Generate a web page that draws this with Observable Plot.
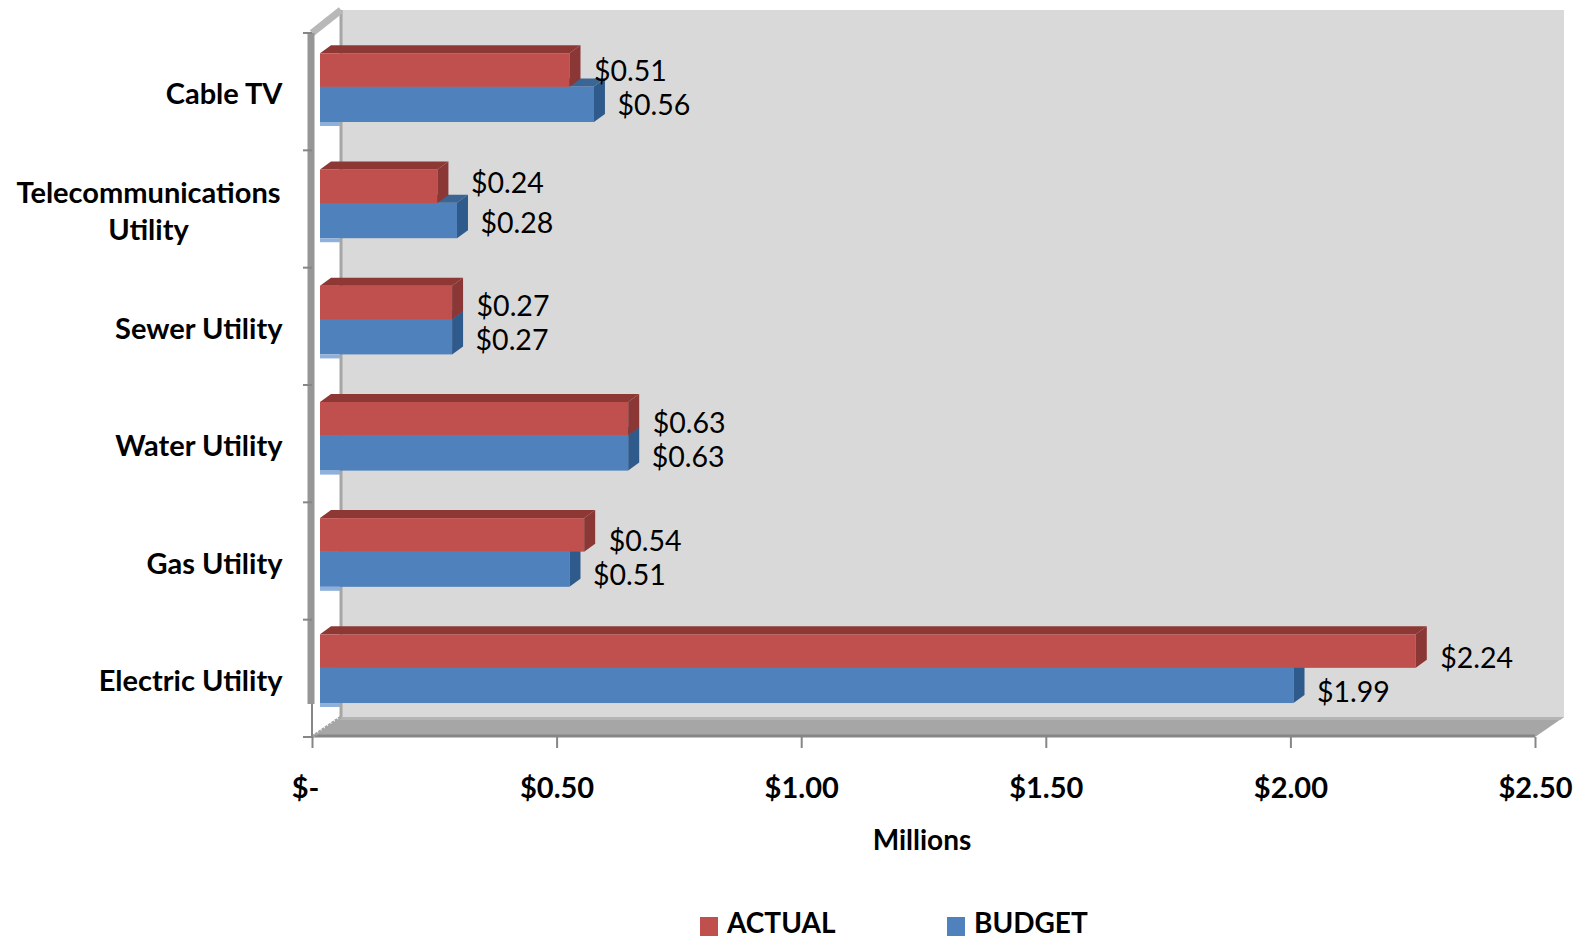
<!DOCTYPE html>
<html>
<head>
<meta charset="utf-8">
<script src="https://cdn.jsdelivr.net/npm/d3@7"></script>
<script src="https://cdn.jsdelivr.net/npm/@observablehq/plot@0.6"></script>
<style>
  html, body { margin: 0; padding: 0; background: #fff; overflow: hidden; }
  #legend { position: relative; height: 60px; font: bold 28px Lato, sans-serif; color: #000; }
  #legend span { position: absolute; top: 26px; line-height: 32px; }
  #legend i { position: absolute; top: 37px; display: block; width: 18px; height: 19px; }
</style>
</head>
<body>
<div id="chart"></div>
<div id="legend"></div>
<script>
const categories = ["Cable TV", "Telecommunications\nUtility", "Sewer Utility", "Water Utility", "Gas Utility", "Electric Utility"];
const actual = [0.51, 0.24, 0.27, 0.63, 0.54, 2.24];
const budget = [0.56, 0.28, 0.27, 0.63, 0.51, 1.99];
const xTicks = [0, 0.5, 1, 1.5, 2, 2.5];
const xTickLabels = ["$-\u00a0\u00a0", "$0.50", "$1.00", "$1.50", "$2.00", "$2.50"];
const seriesColors = {ACTUAL: "#C0504D", BUDGET: "#4F81BD"};

const rowsActual = categories.map((category, i) => ({category, value: actual[i]}));
const rowsBudget = categories.map((category, i) => ({category, value: budget[i]}));
const money = v => "$" + v.toFixed(2);
const font = "Lato, sans-serif";

const SVGNS = "http://www.w3.org/2000/svg";
function poly(parent, points, fill) {
  const p = document.createElementNS(SVGNS, "polygon");
  p.setAttribute("points", points.map(q => q.join(",")).join(" "));
  p.setAttribute("fill", fill);
  parent.appendChild(p);
  return p;
}

// Depth of the 3-D box bars and of the chart "room"
const barDepth = [11, -8];
const roomDepth = [29, -20];
const rowDrift = 116.2 / 117.33; // bars sit on a slightly tighter pitch than the axis ticks

function box3d(rows, {fill, top, side, insetTop, insetBottom, foot}) {
  return Plot.barX(rows, {
    x: "value", y: "category", fill, insetTop, insetBottom, dx: 8,
    render(index, scales, values, dims, ctx, next) {
      const g = next(index, scales, values, dims, ctx);
      const [dx, dy] = barDepth;
      for (const rect of [...g.querySelectorAll("rect")]) {
        const x = +rect.getAttribute("x"), w = +rect.getAttribute("width"), h = +rect.getAttribute("height");
        const y = dims.marginTop + (+rect.getAttribute("y") - dims.marginTop) * rowDrift;
        rect.setAttribute("y", y);
        const parent = rect.parentNode;
        poly(parent, [[x, y], [x + dx, y + dy], [x + w + dx, y + dy], [x + w, y]], top);
        poly(parent, [[x + w, y], [x + w + dx, y + dy], [x + w + dx, y + h + dy], [x + w, y + h]], side);
        if (foot) poly(parent, [[x, y + h], [x + 20, y + h], [x + 20, y + h + 4], [x, y + h + 4]], foot);
      }
      return g;
    }
  });
}

function room(index, {x}, values, dims) {
  const g = d3.create("svg:g");
  const x0 = x(0), x1 = x(2.5);
  const top = dims.marginTop, bottom = dims.height - dims.marginBottom;
  const [rx, ry] = roomDepth;
  const node = g.node();
  // back wall
  poly(node, [[x0 + rx, top + ry - 3], [x1 + rx, top + ry - 3], [x1 + rx, bottom + ry], [x0 + rx, bottom + ry]], "#D9D9D9");
  // floor
  poly(node, [[x0, bottom], [x0 + rx, bottom + ry], [x1 + rx, bottom + ry], [x1, bottom]], "#A6A6A6");
  poly(node, [[x0 + rx, bottom + ry], [x1 + rx, bottom + ry], [x1 + rx - 4, bottom + ry + 3], [x0 + rx - 4, bottom + ry + 3]], "#B4B4B4");
  const line = (a, b, c, d, stroke, w, dash) => g.append("line").attr("x1", a).attr("y1", b).attr("x2", c).attr("y2", d)
    .attr("stroke", stroke).attr("stroke-width", w).attr("stroke-dasharray", dash || null);
  // floor front edge, wall corner, top-left edge
  line(x0, bottom - 1, x1, bottom - 1, "#868686", 3);
  line(x0 + rx, top + ry - 3, x0 + rx, bottom + ry, "#A6A6A6", 3);
  line(x0, top, x0 + rx, top + ry - 3, "#B8B8B8", 7);
  line(x0, bottom, x0 + rx, bottom + ry, "#A6A6A6", 3, "3 1");
  // side wall thick edge and thin lower part
  line(x0 - 1, top, x0 - 1, bottom - 33, "#969696", 7);
  line(x0, bottom - 33, x0, bottom, "#868686", 2);
  // category ticks sit on band edges
  for (let i = 0; i <= categories.length; i++) {
    const v = top + i * (bottom - top) / categories.length;
    line(x0 - 9, v, x0, v, "#868686", 2);
  }
  return node;
}

const chart = Plot.plot({
  width: 1579,
  height: 880,
  marginLeft: 312,
  marginRight: 44,
  marginTop: 33,
  marginBottom: 143,
  style: {background: "#fff", fontFamily: font, overflow: "visible"},
  x: {domain: [0, 2.5]},
  y: {domain: categories, padding: 0, round: false, axis: null},
  marks: [
    room,
    box3d(rowsBudget, {fill: seriesColors.BUDGET, top: "#3B6595", side: "#2F5A8C", insetTop: 54, insetBottom: 27.8, foot: "#8FB0DA"}),
    box3d(rowsActual, {fill: seriesColors.ACTUAL, top: "#8E3836", side: "#8A3735", insetTop: 20.5, insetBottom: 63.3}),
    Plot.text(rowsActual, {filter: d => d.value !== 0.24, x: "value", y: "category", text: d => money(d.value), dx: 32, dy: -20, textAnchor: "start", fontSize: 28.5, fill: "#000"}),
    Plot.text(rowsActual, {filter: d => d.value === 0.24, x: "value", y: "category", text: d => money(d.value), dx: 41, dy: -26, textAnchor: "start", fontSize: 28.5, fill: "#000"}),
    Plot.text(rowsBudget, {x: "value", y: "category", text: d => money(d.value), dx: 31, dy: 14, textAnchor: "start", fontSize: 28.5, fill: "#000"}),
    Plot.text(categories.filter(c => !c.includes("\n")), {y: d => d, text: d => d, frameAnchor: "left", dx: -30, dy: 3, textAnchor: "end", fontSize: 29, fontWeight: "bold", fill: "#000"}),
    Plot.text(categories.filter(c => c.includes("\n")), {y: d => d, text: d => d, frameAnchor: "left", dx: -164, textAnchor: "middle", lineHeight: 1.3, fontSize: 29, fontWeight: "bold", fill: "#000"}),
    Plot.axisX({ticks: xTicks, tickFormat: v => xTickLabels[xTicks.indexOf(v)], tickSize: 11, tickPadding: 29, stroke: "#868686", strokeWidth: 2, fontSize: 29, fontWeight: "bold", fill: "#000", label: null}),
    Plot.text(["Millions"], {frameAnchor: "bottom", dx: -2, dy: 112, fontSize: 28, fontWeight: "bold", fill: "#000"})
  ]
});
document.getElementById("chart").appendChild(chart);

const legend = d3.select("#legend");
const legendItems = [["ACTUAL", 700, 727], ["BUDGET", 947, 974]];
for (const [name, sq, tx] of legendItems) {
  legend.append("i").style("left", sq + "px").style("background", seriesColors[name]);
  legend.append("span").style("left", tx + "px").text(name);
}
</script>
</body>
</html>
